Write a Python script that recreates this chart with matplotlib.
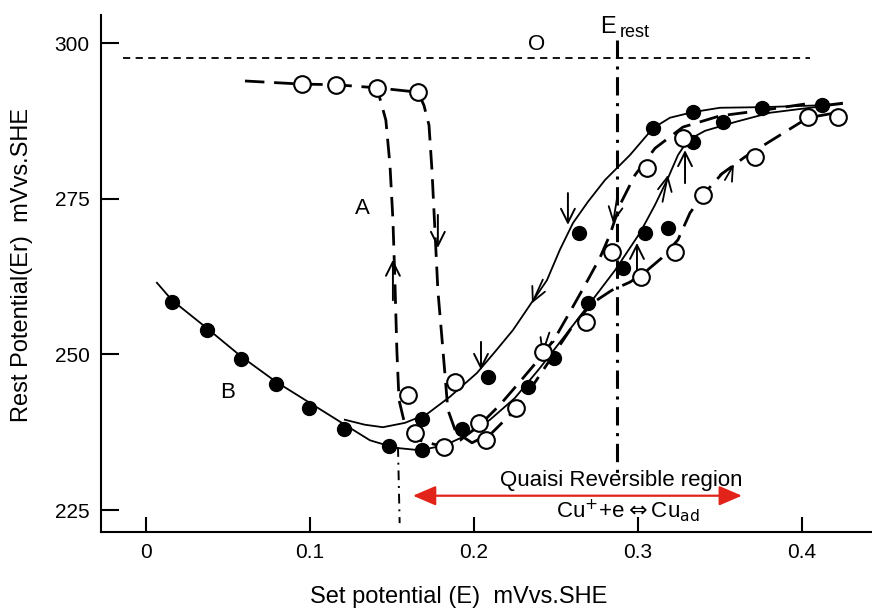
import numpy as np
import matplotlib.pyplot as plt

plt.rcParams['font.family'] = ['Liberation Sans', 'DejaVu Sans']
plt.rcParams['mathtext.fontset'] = 'custom'
plt.rcParams['mathtext.rm'] = 'Liberation Sans'
plt.rcParams['mathtext.it'] = 'Liberation Sans:italic'

# curve B, forward sweep (solid)
b_fwd_x = [0.0067, 0.0159, 0.0372, 0.0579, 0.0793, 0.1000, 0.1213, 0.1366, 0.1518,
           0.1671, 0.1823, 0.1945, 0.2098, 0.2250, 0.2402, 0.2555, 0.2707, 0.2860,
           0.3012, 0.3104, 0.3183, 0.3244, 0.3305, 0.3409, 0.3591, 0.3805, 0.4049, 0.4244]
b_fwd_y = [261.5, 258.7, 254.2, 249.7, 245.6, 242.2, 238.7, 236.2, 235.0,
           234.6, 235.4, 236.9, 239.5, 243.0, 247.8, 253.0, 258.2, 263.5,
           269.5, 274.0, 278.3, 282.0, 284.4, 285.9, 287.3, 288.8, 289.6, 290.2]

# curve B, reverse sweep (solid)
b_rev_x = [0.4244, 0.4122, 0.3762, 0.3500, 0.3335, 0.3195, 0.3091, 0.2951, 0.2799,
           0.2695, 0.2604, 0.2524, 0.2445, 0.2341, 0.2238, 0.2128, 0.2018, 0.1854,
           0.1713, 0.1579, 0.1445, 0.1335, 0.1213]
b_rev_y = [290.4, 290.0, 289.7, 289.6, 288.9, 288.0, 286.3, 282.0, 278.0,
           274.5, 271.1, 266.8, 261.9, 257.9, 253.9, 250.4, 247.0, 243.2,
           240.4, 239.0, 238.3, 238.7, 239.5]

# curve A, forward sweep (dashed)
a_fwd_x = [0.0604, 0.0951, 0.1159, 0.1409, 0.1659, 0.1695, 0.1726, 0.1744, 0.1762,
           0.1780, 0.1811, 0.1841, 0.1890, 0.1988, 0.2110, 0.2232, 0.2354, 0.2476,
           0.2598, 0.2720, 0.2841, 0.2951, 0.3043, 0.3146, 0.3244, 0.3317, 0.3396,
           0.3512, 0.3652, 0.3835, 0.4037, 0.4232]
a_fwd_y = [293.9, 293.4, 293.3, 292.8, 292.1, 290.0, 286.8, 279.6, 270.0,
           260.3, 250.7, 241.1, 237.5, 235.8, 237.4, 240.6, 244.8, 249.6,
           254.4, 258.2, 260.3, 261.6, 263.2, 265.5, 268.4, 272.7, 275.6,
           279.0, 281.7, 284.7, 288.0, 288.9]

# curve A, reverse sweep (dashed)
a_rev_x = [0.4018, 0.3762, 0.3500, 0.3274, 0.3104, 0.2982, 0.2890, 0.2829, 0.2768,
           0.2677, 0.2585, 0.2494, 0.2402, 0.2280, 0.2159, 0.2037, 0.1915, 0.1793,
           0.1671, 0.1579, 0.1543, 0.1530, 0.1518, 0.1506, 0.1488, 0.1463, 0.1409]
a_rev_y = [290.2, 289.2, 288.3, 286.5, 283.1, 278.8, 274.0, 269.2, 265.5,
           261.1, 256.8, 252.6, 249.4, 245.6, 241.9, 238.7, 236.2, 235.3,
           236.2, 238.7, 242.7, 250.7, 261.9, 271.6, 280.4, 287.6, 292.8]

# measured points
filled_x = [0.0159, 0.0372, 0.0579, 0.0793, 0.0994, 0.1207, 0.1482, 0.1683, 0.1683,
            0.1927, 0.2085, 0.2329, 0.2488, 0.2640, 0.2695, 0.2909, 0.3043, 0.3183,
            0.3091, 0.3335, 0.3335, 0.3518, 0.3756, 0.4122]
filled_y = [258.4, 253.9, 249.3, 245.2, 241.4, 238.0, 235.3, 234.6, 239.6,
            238.0, 246.4, 244.8, 249.4, 269.5, 258.2, 263.9, 269.5, 270.3,
            286.3, 288.9, 284.1, 287.3, 289.6, 290.0]
open_x = [0.0951, 0.1159, 0.1409, 0.1659, 0.1598, 0.1884, 0.1640, 0.1817, 0.2030,
          0.2073, 0.2256, 0.2421, 0.2683, 0.2841, 0.3018, 0.3226, 0.3055, 0.3274,
          0.3396, 0.3713, 0.4037, 0.4220]
open_y = [293.4, 293.3, 292.8, 292.1, 243.5, 245.6, 237.4, 235.1, 239.0,
          236.2, 241.4, 250.4, 255.2, 266.4, 262.4, 266.4, 279.9, 284.7,
          275.6, 281.7, 288.1, 288.1]

# straight arrows (tail x, tail y, tip x, tip y)
arrows = [(0.1506, 258.7, 0.1506, 265.2),
          (0.1780, 272.4, 0.1780, 267.1),
          (0.2573, 275.9, 0.2573, 270.8),
          (0.2043, 252.0, 0.2043, 247.5),
          (0.2994, 262.7, 0.2994, 267.9),
          (0.3287, 277.5, 0.3287, 282.8)]
# arrow heads drawn on the curves
heads = [(0.2420, 262.0, 0.2354, 258.2),
         (0.2872, 275.0, 0.2848, 271.1),
         (0.2460, 253.5, 0.2415, 250.0),
         (0.3150, 274.5, 0.3183, 278.8),
         (0.3530, 278.0, 0.3585, 280.5)]

o_level = 297.6
e_rest = 0.2872
e_start = 0.1537
region = (0.1628, 0.3634)

fig = plt.figure(figsize=(8.72, 6.09), dpi=100)
ax = fig.add_axes([0.1158, 0.1264, 0.8842, 0.849])

dash_a = (0, (7, 3.5))
ax.plot(b_fwd_x, b_fwd_y, color='k', lw=1.3)
ax.plot(b_rev_x, b_rev_y, color='k', lw=1.3)
ax.plot(a_fwd_x, a_fwd_y, color='k', lw=2.0, linestyle=dash_a)
ax.plot(a_rev_x, a_rev_y, color='k', lw=2.0, linestyle=dash_a)

ax.plot(filled_x, filled_y, 'o', color='k', ms=10, zorder=4)
ax.plot(open_x, open_y, 'o', mfc='white', mec='k', mew=1.5, ms=12, zorder=4)

# reference lines
ax.plot([-0.014, 0.405], [o_level, o_level], color='k', lw=1.3, linestyle=(0, (4, 3)))
ax.plot([e_rest, e_rest], [300.5, 230.1], color='k', lw=2.2, linestyle=(0, (6, 2.5, 1, 2.5)))
ax.plot([e_start, e_start + 0.001], [235.1, 222.9], color='k', lw=1.4, linestyle=(0, (5, 3, 1, 3)))

for x0, y0, x1, y1 in arrows:
    ax.annotate('', xy=(x1, y1), xytext=(x0, y0),
                arrowprops=dict(arrowstyle='->,head_length=0.5,head_width=0.25',
                                color='k', lw=1.4, shrinkA=0, shrinkB=0,
                                mutation_scale=20))
for x0, y0, x1, y1 in heads:
    ax.annotate('', xy=(x1, y1), xytext=(x0, y0),
                arrowprops=dict(arrowstyle='->,head_length=0.5,head_width=0.25',
                                color='k', lw=1.3, shrinkA=0, shrinkB=0,
                                mutation_scale=20))

ax.annotate('', xy=(region[0], 227.3), xytext=(region[1], 227.3),
            arrowprops=dict(arrowstyle='<|-|>,head_length=0.7,head_width=0.3',
                            color='#e2231a', lw=1.6, shrinkA=0, shrinkB=0,
                            mutation_scale=20))

ax.text(0.1317, 273.5, 'A', fontsize=16, ha='center', va='center')
ax.text(0.0500, 243.8, 'B', fontsize=16, ha='center', va='center')
ax.text(0.2384, 299.8, 'O', fontsize=16, ha='center', va='center')
ax.text(0.2817, 302.5, 'E', fontsize=17, ha='center', va='center')
ax.text(0.2890, 301.7, 'rest', fontsize=13, ha='left', va='center')
ax.text(0.2896, 229.8, 'Quaisi Reversible region', fontsize=16, ha='center', va='center')
ax.text(0.2940, 224.9, r'Cu$^{+}$+e$\Leftrightarrow$Cu$_{\mathrm{ad}}$', fontsize=16,
        ha='center', va='center', math_fontfamily='dejavusans')

ax.set_xlim(-0.0274, 0.4427)
ax.set_ylim(221.47, 304.5)
ax.set_xticks([0, 0.1, 0.2, 0.3, 0.4])
ax.set_xticklabels(['0', '0.1', '0.2', '0.3', '0.4'])
ax.set_yticks([225, 250, 275, 300])

for side in ['top', 'right']:
    ax.spines[side].set_visible(False)
for side in ['left', 'bottom']:
    ax.spines[side].set_linewidth(1.5)

ax.tick_params(axis='both', direction='in', width=1.5, labelsize=15, pad=8)
ax.tick_params(axis='y', length=13)
ax.tick_params(axis='x', length=11)

ax.set_xlabel('Set potential (E)  mVvs.SHE', fontsize=17, va='center')
ax.xaxis.set_label_coords(0.464, -0.126)
ax.set_ylabel('Rest Potential(Er)  mVvs.SHE', fontsize=17, va='center')
ax.yaxis.set_label_coords(-0.1025, 0.516)

fig.savefig('out.png', dpi=100)
